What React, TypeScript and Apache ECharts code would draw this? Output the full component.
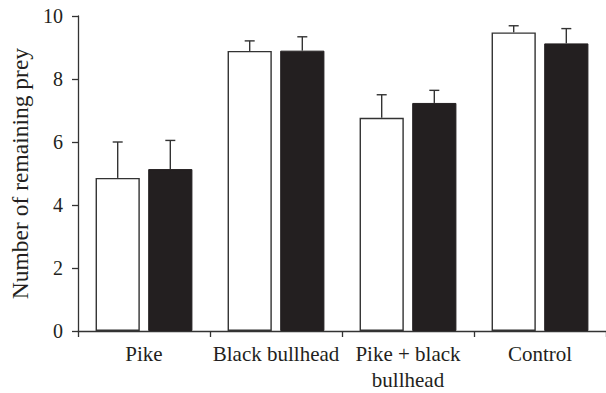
import React, { useEffect, useRef } from "react";
import * as echarts from "echarts";

const categories = ["Pike", "Black bullhead", "Pike + black\nbullhead", "Control"];
const whiteMeans = [4.86, 8.89, 6.77, 9.48];
const whiteErrors = [1.14, 0.32, 0.73, 0.21];
const blackMeans = [5.14, 8.9, 7.24, 9.13];
const blackErrors = [0.91, 0.44, 0.4, 0.47];
const yTicks = [0, 2, 4, 6, 8, 10];

const FONT = "Liberation Serif, DejaVu Serif, serif";
const INK = "#231f20";
const BAR_W = 0.335;
const BAR_GAP = 0.19;

function errorSeries(means: number[], errs: number[], side: number) {
  return {
    type: "custom",
    z: 5,
    silent: true,
    data: means.map((m, i) => [i, m, m + errs[i]]),
    renderItem: (params: any, api: any) => {
      const i = api.value(0);
      const band = api.size([1, 0])[0];
      const off = side * band * (BAR_W + BAR_W * BAR_GAP) / 2;
      const p0 = api.coord([i, api.value(1)]);
      const p1 = api.coord([i, api.value(2)]);
      const x = p0[0] + off;
      const style = { stroke: "#333", lineWidth: 1.4 };
      return {
        type: "group",
        children: [
          { type: "line", shape: { x1: x, y1: p0[1], x2: x, y2: p1[1] }, style },
          { type: "line", shape: { x1: x - 5, y1: p1[1], x2: x + 5, y2: p1[1] }, style },
        ],
      };
    },
  };
}

export default function App() {
  const ref = useRef<HTMLDivElement>(null);
  useEffect(() => {
    document.body.style.margin = "0";
    const chart = echarts.init(ref.current!, null, { renderer: "svg" });
    chart.setOption({
      animation: false,
      backgroundColor: "#ffffff",
      textStyle: { fontFamily: FONT },
      grid: { left: 78, right: -8, top: 16, bottom: 60, containLabel: false },
      xAxis: {
        type: "category",
        data: categories,
        axisLine: { lineStyle: { color: "#333", width: 1.3 } },
        axisTick: { show: true, length: 6, lineStyle: { color: "#333", width: 1.3 } },
        axisLabel: {
          color: INK,
          fontFamily: FONT,
          fontSize: 21,
          lineHeight: 26,
          margin: 10,
          interval: 0,
        },
      },
      yAxis: {
        type: "value",
        min: 0,
        max: 10,
        interval: 2,
        name: "Number of remaining prey",
        nameLocation: "middle",
        nameGap: 43,
        nameTextStyle: { color: INK, fontFamily: FONT, fontSize: 23.5 },
        splitLine: { show: false },
        axisLine: { show: true, lineStyle: { color: "#333", width: 1.3 } },
        axisTick: { show: true, length: 6, lineStyle: { color: "#333", width: 1.3 } },
        axisLabel: {
          color: INK,
          fontFamily: FONT,
          fontSize: 20,
          margin: 15,
          formatter: (v: number) => (yTicks.includes(v) ? String(v) : ""),
        },
      },
      series: [
        {
          type: "bar",
          data: whiteMeans,
          barWidth: BAR_W * 100 + "%",
          barGap: BAR_GAP * 100 + "%",
          itemStyle: { color: "#ffffff", borderColor: "#333", borderWidth: 1.4 },
        },
        {
          type: "bar",
          data: blackMeans,
          barWidth: BAR_W * 100 + "%",
          barGap: BAR_GAP * 100 + "%",
          itemStyle: { color: INK, borderColor: INK, borderWidth: 1 },
        },
        errorSeries(whiteMeans, whiteErrors, -1),
        errorSeries(blackMeans, blackErrors, 1),
      ],
    });
    return () => chart.dispose();
  }, []);
  return (
    <div
      ref={ref}
      style={{ width: 606, height: 393, position: "absolute", left: 0, top: 0 }}
    />
  );
}
